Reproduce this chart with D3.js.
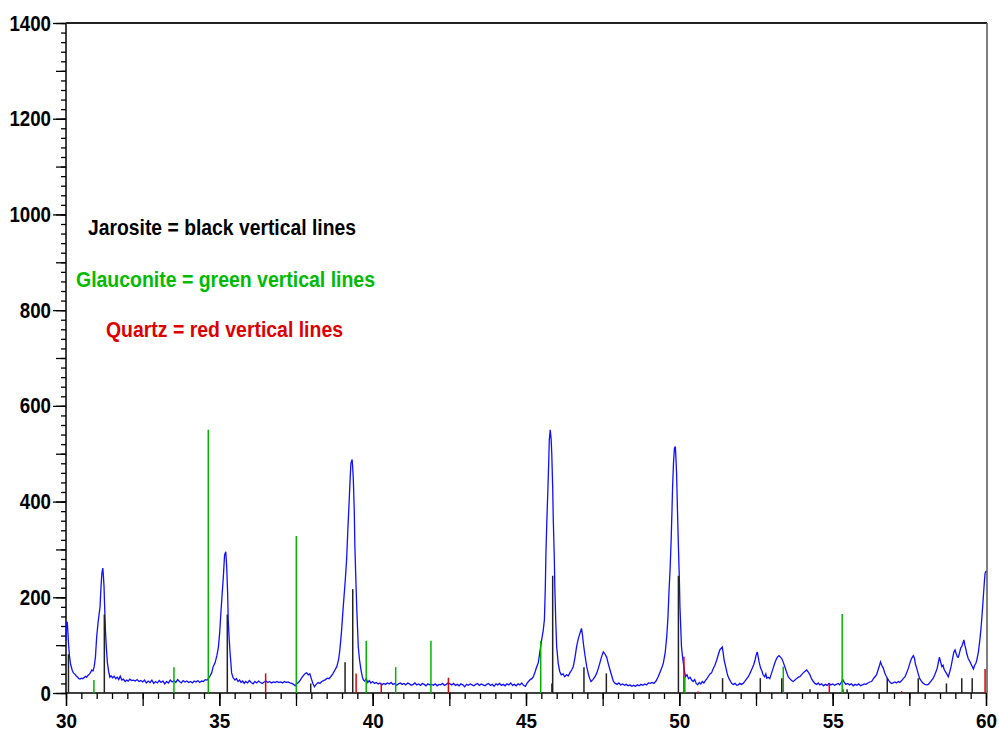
<!DOCTYPE html>
<html>
<head>
<meta charset="utf-8">
<script src="https://cdn.jsdelivr.net/npm/d3@7"></script>
<style>
body { margin: 0; background: #fff; }
svg text { font-family: "Liberation Sans", Arial, sans-serif; font-weight: bold; }
</style>
</head>
<body>
<div id="chart-area"></div>
<script>

// measured pattern (2-theta, counts)
let twoTheta = [
  30.00,30.02,30.04,30.06,30.08,30.11,30.15,30.20,30.24,30.28,
  30.33,30.38,30.42,30.46,30.50,30.55,30.60,30.64,30.67,30.72,
  30.77,30.81,30.84,30.88,30.92,30.96,31.00,31.05,31.11,31.14,
  31.17,31.20,31.22,31.24,31.26,31.29,31.32,31.35,31.39,31.43,
  31.47,31.52,31.57,31.62,31.67,31.72,31.77,31.82,31.87,31.93,
  31.98,32.03,32.08,32.14,32.20,32.26,32.32,32.38,32.44,32.50,
  32.56,32.62,32.68,32.74,32.80,32.86,32.92,32.98,33.04,33.10,
  33.16,33.22,33.28,33.34,33.40,33.46,33.52,33.58,33.64,33.70,
  33.76,33.82,33.88,33.94,34.00,34.06,34.12,34.18,34.24,34.30,
  34.36,34.42,34.48,34.54,34.60,34.64,34.70,34.75,34.80,34.86,
  34.92,34.97,35.01,35.05,35.09,35.13,35.17,35.21,35.24,35.27,
  35.29,35.32,35.35,35.38,35.40,35.45,35.51,35.56,35.61,35.66,
  35.71,35.76,35.81,35.86,35.92,35.98,36.04,36.10,36.16,36.22,
  36.28,36.34,36.40,36.46,36.52,36.58,36.64,36.70,36.76,36.82,
  36.88,36.94,37.00,37.06,37.12,37.18,37.24,37.30,37.36,37.42,
  37.47,37.52,37.58,37.64,37.70,37.76,37.81,37.85,37.90,37.95,
  38.00,38.05,38.10,38.16,38.22,38.28,38.34,38.40,38.46,38.52,
  38.58,38.63,38.70,38.76,38.83,38.89,38.93,38.98,39.04,39.10,
  39.15,39.19,39.23,39.26,39.29,39.33,39.35,39.37,39.40,39.42,
  39.45,39.48,39.51,39.53,39.57,39.62,39.66,39.69,39.74,39.79,
  39.84,39.89,39.94,40.00,40.06,40.12,40.18,40.24,40.30,40.36,
  40.42,40.48,40.54,40.60,40.66,40.72,40.78,40.84,40.90,40.96,
  41.02,41.08,41.14,41.20,41.26,41.32,41.38,41.44,41.50,41.56,
  41.62,41.68,41.74,41.80,41.86,41.92,41.98,42.04,42.10,42.16,
  42.22,42.28,42.34,42.40,42.46,42.52,42.58,42.64,42.70,42.76,
  42.82,42.88,42.94,43.00,43.06,43.12,43.18,43.24,43.30,43.36,
  43.42,43.48,43.54,43.60,43.66,43.72,43.78,43.84,43.90,43.96,
  44.02,44.08,44.14,44.20,44.26,44.32,44.38,44.44,44.50,44.56,
  44.62,44.68,44.74,44.80,44.86,44.92,44.98,45.03,45.08,45.14,
  45.19,45.24,45.30,45.35,45.40,45.45,45.51,45.56,45.60,45.63,
  45.65,45.68,45.71,45.74,45.76,45.79,45.82,45.84,45.87,45.89,
  45.92,45.94,45.97,46.00,46.05,46.10,46.15,46.21,46.26,46.32,
  46.38,46.43,46.49,46.54,46.60,46.65,46.70,46.76,46.81,46.84,
  46.87,46.92,46.98,47.04,47.08,47.12,47.18,47.25,47.31,47.36,
  47.41,47.46,47.52,47.57,47.63,47.68,47.74,47.80,47.85,47.91,
  47.97,48.03,48.09,48.15,48.21,48.27,48.33,48.39,48.45,48.51,
  48.57,48.63,48.69,48.75,48.81,48.87,48.93,48.99,49.05,49.11,
  49.17,49.24,49.31,49.38,49.44,49.48,49.54,49.59,49.63,49.66,
  49.70,49.73,49.76,49.78,49.81,49.84,49.87,49.89,49.91,49.94,
  49.97,50.00,50.02,50.05,50.07,50.10,50.13,50.17,50.20,50.25,
  50.30,50.35,50.40,50.45,50.50,50.55,50.60,50.65,50.70,50.75,
  50.80,50.85,50.90,50.95,51.00,51.05,51.10,51.16,51.22,51.27,
  51.32,51.36,51.40,51.43,51.46,51.51,51.57,51.62,51.67,51.71,
  51.76,51.82,51.87,51.92,51.97,52.02,52.08,52.14,52.20,52.25,
  52.31,52.38,52.43,52.47,52.50,52.54,52.57,52.60,52.65,52.70,
  52.73,52.78,52.82,52.85,52.90,52.95,53.00,53.06,53.11,53.17,
  53.21,53.25,53.30,53.34,53.39,53.44,53.49,53.55,53.60,53.66,
  53.71,53.77,53.82,53.88,53.93,53.98,54.04,54.09,54.15,54.20,
  54.26,54.31,54.37,54.42,54.48,54.53,54.58,54.64,54.70,54.76,
  54.82,54.88,54.94,55.00,55.06,55.12,55.18,55.23,55.28,55.34,
  55.38,55.43,55.49,55.55,55.61,55.67,55.73,55.79,55.85,55.91,
  55.97,56.03,56.09,56.15,56.21,56.27,56.33,56.38,56.43,56.48,
  56.53,56.56,56.60,56.65,56.70,56.74,56.78,56.83,56.88,56.92,
  56.97,57.03,57.08,57.14,57.19,57.25,57.30,57.36,57.41,57.47,
  57.52,57.57,57.63,57.67,57.70,57.74,57.79,57.84,57.90,57.96,
  58.01,58.06,58.12,58.17,58.22,58.28,58.33,58.37,58.41,58.45,
  58.48,58.52,58.56,58.60,58.63,58.67,58.72,58.77,58.82,58.86,
  58.91,58.95,58.99,59.03,59.07,59.10,59.14,59.18,59.21,59.25,
  59.28,59.31,59.35,59.37,59.42,59.48,59.53,59.59,59.63,59.67,
  59.70,59.75,59.80,59.83,59.86,59.89,59.92,59.95,59.97,60.00
];

let counts = [
  110,145,149,130,105,79,60,48,42,40,
  36,33,30,29,31,30,33,35,33,37,
  40,44,48,46,55,75,117,150,180,220,
  250,261,245,222,180,125,90,63,45,33,
  36,32,35,30,33,28,35,27,29,24,
  27,25,29,26,27,25,28,24,26,23,
  27,21,25,22,27,20,24,21,26,22,
  25,19,24,21,27,23,26,22,28,24,
  21,26,23,25,22,24,21,25,23,26,
  22,25,24,28,27,30,36,42,55,63,
  78,96,125,167,205,242,288,295,264,210,
  153,115,84,60,42,32,27,30,24,27,
  22,25,20,24,21,26,22,19,24,21,
  25,22,20,23,25,22,24,21,23,22,
  24,22,23,21,24,22,23,21,20,18,
  15,19,22,27,33,38,41,42,38,40,
  30,20,13,18,22,20,24,26,28,31,
  30,34,40,47,55,70,90,125,180,230,
  278,340,396,440,480,488,470,445,380,306,
  240,180,130,97,70,48,35,28,25,30,
  22,26,21,24,20,22,19,21,17,20,
  18,21,19,22,18,20,16,19,21,18,
  20,17,21,19,16,18,21,17,19,16,
  20,18,15,19,17,18,16,19,15,18,
  17,20,16,18,21,19,17,20,16,18,
  15,19,17,13,18,16,19,17,15,18,
  20,16,19,17,15,18,20,16,18,14,
  19,17,20,16,18,15,19,17,21,16,
  18,15,19,17,21,16,14,20,24,28,
  30,34,45,55,63,85,111,130,153,220,
  292,360,418,480,529,550,530,501,430,361,
  290,222,150,97,62,45,38,40,34,38,
  36,42,48,55,75,97,112,125,135,122,
  104,80,55,38,30,24,28,34,42,52,
  63,75,86,82,75,62,48,35,24,20,
  18,21,17,19,16,18,15,17,14,16,
  14,17,15,18,16,19,17,21,20,22,
  20,25,34,45,55,63,85,118,160,208,
  260,313,380,431,480,511,515,490,459,380,
  306,240,180,130,97,78,63,45,34,38,
  30,33,27,24,28,20,17,22,19,24,
  21,26,30,35,40,42,50,58,69,80,
  90,93,96,84,69,55,38,30,24,20,
  18,20,16,17,20,18,20,25,30,34,
  42,52,60,69,78,86,76,65,52,45,
  38,34,40,31,33,30,40,52,62,72,
  76,78,75,72,64,55,45,34,30,26,
  24,27,30,33,34,38,42,45,48,44,
  38,30,24,20,18,21,17,19,15,18,
  16,20,17,19,16,18,20,17,22,27,
  22,18,20,17,19,15,18,16,19,15,
  17,19,18,21,23,24,30,34,38,48,
  58,65,58,52,42,36,31,26,22,20,
  21,23,21,24,22,26,30,34,42,52,
  63,72,78,72,60,52,40,30,24,20,
  18,17,18,22,26,31,38,45,52,65,
  75,65,55,58,50,45,40,34,45,55,
  72,85,90,82,75,75,85,95,97,105,
  111,100,90,83,72,65,58,50,58,62,
  69,85,111,130,153,180,208,235,250,255
];

// reference stick patterns [2-theta, intensity]
let jarosite = [[30.08,81],[31.25,164],[35.26,164],[37.98,20],[39.10,64],[39.35,217],
  [45.87,245],[46.89,54],[47.62,41],[49.97,245],[51.41,31],[52.64,31],[53.34,31],
  [54.26,8],[55.47,8],[56.78,31],[57.79,31],[58.71,20],[59.21,31],[59.55,31]];
let glauconite = [[30.91,27],[33.52,54],[34.64,550],[37.51,328],[39.79,109],[40.75,54],
  [41.90,109],[45.48,109],[50.18,34],[53.39,55],[55.31,165]];
let quartz = [[36.51,41],[39.46,41],[40.28,20],[42.47,32],[45.84,20],[50.15,76],
  [50.61,3],[54.89,20],[55.34,8],[57.25,4],[59.97,50]];

let xLabels = [30, 35, 40, 45, 50, 55, 60];
let yLabels = [0, 200, 400, 600, 800, 1000, 1200, 1400];

let legendLines = [
  {text: "Jarosite = black vertical lines", color: "#000000"},
  {text: "Glauconite = green vertical lines", color: "#00bb00"},
  {text: "Quartz = red vertical lines", color: "#dd0000"}
];

let width = 999,
    height = 732;

let svg = d3.select("#chart-area").append("svg")
    .attr("width", width)
    .attr("height", height);

let x = d3.scaleLinear().domain([30, 60]).range([66, 986]);
let y = d3.scaleLinear().domain([0, 1400]).range([693, 23]);

// x ticks: every 0.5, longer every 2.5, labels every 5
function xAxis(values, size, labels) {
  let g = svg.append("g")
    .attr("transform", "translate(0," + y(0) + ")")
    .call(d3.axisBottom(x).tickValues(values).tickSize(size).tickPadding(8)
      .tickFormat(labels ? d3.format("d") : ""));
  g.select(".domain").remove();
  g.selectAll("line").attr("stroke", "#000").attr("stroke-width", 1.3);
  g.attr("font-size", 20).attr("font-family", null);
  return g;
}
xAxis(d3.range(60, 121).map(d => d / 2), 6, false);
xAxis(d3.range(12, 25).map(d => d * 2.5), 13, false);
xAxis(xLabels, 13, true)
  .selectAll("text").attr("textLength", 21).attr("lengthAdjust", "spacingAndGlyphs");

// y ticks: every 20, longer every 100, labels every 200
function yAxis(values, size, labels) {
  let g = svg.append("g")
    .attr("transform", "translate(" + x(30) + ",0)")
    .call(d3.axisLeft(y).tickValues(values).tickSize(size).tickPadding(2)
      .tickFormat(labels ? d3.format("d") : ""));
  g.select(".domain").remove();
  g.selectAll("line").attr("stroke", "#000").attr("stroke-width", 1.3);
  g.attr("font-size", 22).attr("font-family", null);
  return g;
}
yAxis(d3.range(0, 71).map(d => d * 20), 5, false);
yAxis(d3.range(0, 15).map(d => d * 100), 10, false);
yAxis(yLabels, 13, true)
  .selectAll("text")
  .attr("textLength", d => String(d).length * 10.4)
  .attr("lengthAdjust", "spacingAndGlyphs");

// frame
svg.append("line")
  .attr("x1", x(30)).attr("x2", x(30)).attr("y1", y(0)).attr("y2", y(1400))
  .attr("stroke", "#000").attr("stroke-width", 1.5);
svg.append("line")
  .attr("x1", x(30)).attr("x2", x(60) + 1).attr("y1", y(0)).attr("y2", y(0))
  .attr("stroke", "#000").attr("stroke-width", 1.5);
svg.append("line")
  .attr("x1", x(30)).attr("x2", x(60) + 1).attr("y1", y(1400)).attr("y2", y(1400))
  .attr("stroke", "#222").attr("stroke-width", 1.8);
svg.append("line")
  .attr("x1", x(60) + 1).attr("x2", x(60) + 1).attr("y1", y(1400)).attr("y2", y(0))
  .attr("stroke", "#555").attr("stroke-width", 1.5);

// scan line
let pattern = twoTheta.map((t, i) => [t, counts[i]]);
let line = d3.line()
  .x(d => x(d[0]))
  .y(d => y(d[1]));

svg.append("path")
  .datum(pattern)
  .attr("d", line)
  .attr("fill", "none")
  .attr("stroke", "#1010ff")
  .attr("stroke-width", 1.3);

// sticks
function sticks(data, color) {
  svg.append("g").selectAll("line")
    .data(data)
    .enter().append("line")
    .attr("x1", d => x(d[0]))
    .attr("x2", d => x(d[0]))
    .attr("y1", y(0))
    .attr("y2", d => y(d[1]))
    .attr("stroke", color)
    .attr("stroke-width", 1.5);
}
sticks(quartz, "#e00000");
sticks(glauconite, "#00b400");
sticks(jarosite, "#222");

// legend text
let legendX = [88, 76, 106],
    legendY = [235, 287, 337],
    legendW = [268, 299, 237];

svg.selectAll(".legend")
  .data(legendLines)
  .enter().append("text")
  .attr("class", "legend")
  .attr("x", (d, i) => legendX[i])
  .attr("y", (d, i) => legendY[i])
  .attr("textLength", (d, i) => legendW[i])
  .attr("lengthAdjust", "spacingAndGlyphs")
  .attr("font-size", 22)
  .attr("fill", d => d.color)
  .text(d => d.text);

</script>
</body>
</html>
